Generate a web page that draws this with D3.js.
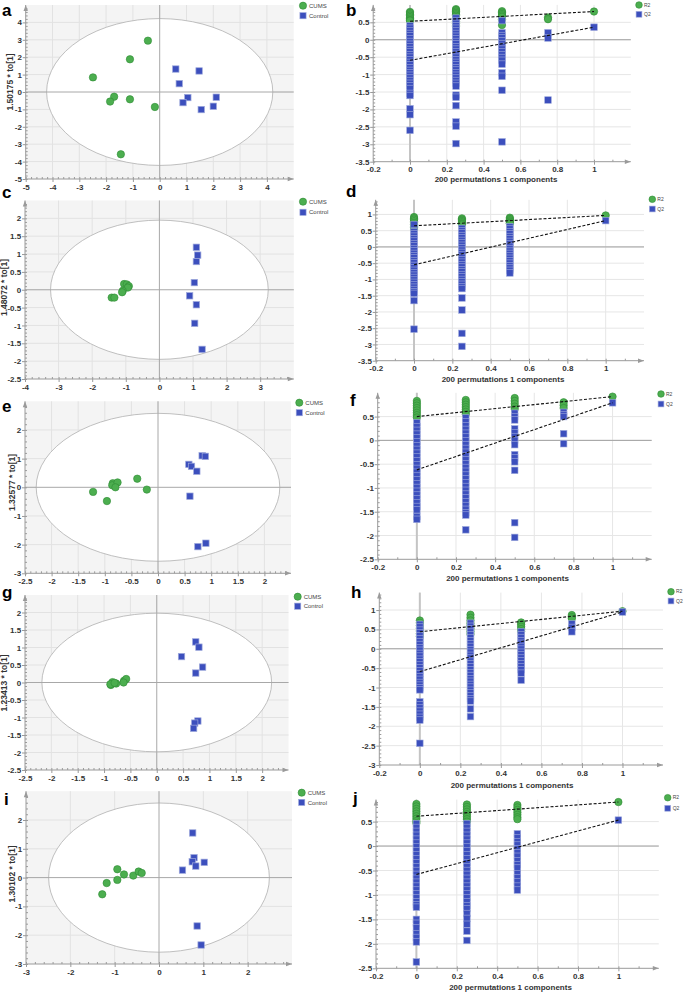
<!DOCTYPE html>
<html><head><meta charset="utf-8">
<script src="https://cdn.jsdelivr.net/npm/d3@7"></script>
<style>
body{margin:0;background:#fff;}
svg{display:block;}
</style></head><body>
<svg id="chart" width="685" height="993"></svg>
<script>
// ---------- Score plots (t[1], to[1]) ----------
const aCUMS = [[-0.44,2.95],[-1.11,1.88],[-2.49,0.84],[-1.70,-0.27],[-1.85,-0.55],[-1.11,-0.42],[-0.18,-0.86],[-1.45,-3.58]];
const aControl = [[0.60,1.32],[1.47,1.21],[0.73,0.48],[1.05,-0.32],[0.87,-0.61],[2.11,-0.30],[2.00,-0.82],[1.55,-1.01]];
const cCUMS = [[-1.05,0.16],[-0.97,0.15],[-0.91,0.10],[-0.94,0.06],[-1.09,-0.03],[-1.11,-0.07],[-1.42,-0.22],[-1.34,-0.22]];
const cControl = [[1.10,1.19],[1.14,0.97],[1.10,0.79],[1.04,0.20],[0.90,-0.17],[1.10,-0.42],[1.05,-0.94],[1.27,-1.67]];
const eCUMS = [[-1.22,-0.16],[-0.96,-0.48],[-0.85,0.14],[-0.86,0.07],[-0.76,0.17],[-0.80,0.00],[-0.39,0.30],[-0.21,-0.08]];
const eControl = [[0.83,1.10],[0.89,1.08],[0.58,0.80],[0.63,0.73],[0.73,0.56],[0.60,-0.31],[0.75,-2.07],[0.90,-1.95]];
const gCUMS = [[-0.87,-0.07],[-0.84,0.01],[-0.88,-0.05],[-0.77,-0.03],[-0.80,-0.01],[-0.62,0.05],[-0.58,0.10],[-0.63,0.00]];
const gControl = [[0.74,1.16],[0.80,1.01],[0.47,0.74],[0.87,0.44],[0.74,0.27],[0.78,-1.10],[0.72,-1.16],[0.70,-1.31]];
const iCUMS = [[-1.28,-0.58],[-1.18,-0.19],[-0.94,-0.08],[-0.94,0.29],[-0.79,0.11],[-0.58,0.07],[-0.46,0.21],[-0.39,0.16]];
const iControl = [[0.76,1.55],[0.79,0.69],[0.75,0.55],[0.83,0.40],[1.02,0.53],[0.53,0.26],[0.86,-1.68],[0.95,-2.34]];
// Hotelling ellipse radii (t, to)
const aEllipse = [4.22, 4.22];
const cEllipse = [3.24, 1.95];
const eEllipse = [2.29, 2.58];
const gEllipse = [2.18, 1.98];
const iEllipse = [2.49, 2.59];
const scoreLabels = ["1.50175 * to[1]","1.48072 * to[1]","1.32577 * to[1]","1.23413 * to[1]","1.30102 * to[1]"];

// ---------- Permutation tests ----------
const permX = [0, 0.25, 0.5, 0.75, 1];
const bR2 = [[0.80,0.77,0.73,0.69,0.65,0.61,0.57,0.55],
             [0.88,0.85,0.81,0.77,0.73,0.69,0.65,0.61,0.57,0.52,0.47,0.42,0.37],
             [0.82,0.78,0.74,0.70,0.66,0.58,0.42],
             [0.64,0.59],
             [0.81]];
const bQ2 = [[0.40,0.33,0.25,0.18,0.11,0.03,-0.05,-0.13,-0.20,-0.28,-0.35,-0.43,-0.50,-0.57,-0.65,-0.72,-0.80,-0.88,-0.95,-1.02,-1.10,-1.17,-1.25,-1.32,-1.40,-1.54,-1.60,-1.98,-2.15,-2.60],
             [0.62,0.55,0.47,0.40,0.33,0.25,0.18,0.10,0.03,-0.05,-0.12,-0.20,-0.27,-0.35,-0.42,-0.50,-0.57,-0.65,-0.72,-0.80,-0.87,-0.95,-1.02,-1.10,-1.17,-1.25,-1.33,-1.59,-1.65,-1.89,-2.36,-2.48,-2.98],
             [0.55,0.20,0.12,0.05,-0.03,-0.11,-0.19,-0.27,-0.35,-0.43,-0.51,-0.59,-0.70,-0.95,-1.05,-1.45,-2.93],
             [0.20,0.05,-1.73],
             [0.36]];
const bLineR2 = [[0,0.53],[1,0.81]];
const bLineQ2 = [[0,-0.59],[1,0.36]];

const dR2 = [[0.92,0.88,0.84,0.79,0.74,0.69,0.64,0.59,0.55],
             [0.88,0.84,0.80,0.76,0.72,0.69],
             [0.90,0.86,0.82,0.78,0.74,0.72],
             [],
             [0.97]];
const dQ2 = [[0.69,0.47,0.40,0.33,0.25,0.18,0.10,0.03,-0.05,-0.12,-0.20,-0.27,-0.34,-0.42,-0.49,-0.57,-0.64,-0.72,-0.79,-0.87,-0.94,-1.02,-1.09,-1.17,-1.24,-1.31,-1.38,-1.43,-1.65,-2.53],
             [0.57,0.50,0.43,0.35,0.28,0.20,0.13,0.05,-0.02,-0.10,-0.17,-0.25,-0.32,-0.40,-0.47,-0.55,-0.62,-0.70,-0.77,-0.85,-0.92,-1.00,-1.07,-1.15,-1.22,-1.28,-1.57,-1.94,-2.66,-3.06],
             [0.62,0.55,0.47,0.40,0.32,0.25,0.17,0.10,0.02,-0.05,-0.13,-0.20,-0.28,-0.35,-0.43,-0.50,-0.58,-0.65,-0.72,-0.80],
             [],
             [0.81]];
const dLineR2 = [[0,0.65],[1,0.97]];
const dLineQ2 = [[0,-0.55],[1,0.81]];

const fR2 = [[0.83,0.78,0.73,0.68,0.63,0.58,0.53,0.48],
             [0.85,0.80,0.75,0.70,0.65,0.60,0.55],
             [0.89,0.83,0.77,0.71,0.66],
             [0.80,0.74,0.68],
             [0.92]];
const fQ2 = [[0.37,0.29,0.21,0.13,0.05,-0.03,-0.11,-0.19,-0.27,-0.35,-0.43,-0.51,-0.59,-0.67,-0.75,-0.83,-0.91,-0.99,-1.07,-1.15,-1.23,-1.31,-1.39,-1.46,-1.60,-1.66],
             [0.47,0.39,0.31,0.23,0.15,0.07,-0.01,-0.09,-0.17,-0.25,-0.33,-0.41,-0.49,-0.57,-0.65,-0.73,-0.81,-0.89,-0.97,-1.05,-1.13,-1.21,-1.29,-1.37,-1.45,-1.52,-1.57,-1.88],
             [0.57,0.50,0.43,0.24,0.16,0.08,0.00,-0.09,-0.30,-0.37,-0.45,-0.63,-1.73,-2.04],
             [0.59,0.54,0.50,0.14,-0.07],
             [0.79]];
const fLineR2 = [[0,0.50],[1,0.92]];
const fLineQ2 = [[0,-0.62],[1,0.79]];

const hR2 = [[0.73,0.67,0.60,0.53,0.46,0.39,0.32],
             [0.88,0.80,0.73,0.66,0.59,0.52,0.45,0.38],
             [0.68,0.63,0.57,0.51,0.45],
             [0.87,0.82,0.78],
             [0.97]];
const hQ2 = [[0.63,0.56,0.48,0.41,0.33,0.26,0.18,0.11,0.03,-0.04,-0.12,-0.19,-0.27,-0.34,-0.42,-0.49,-0.57,-0.64,-0.72,-0.79,-0.87,-0.94,-1.01,-1.06,-1.37,-1.45,-1.53,-1.61,-1.69,-1.77,-1.84,-2.44],
             [0.66,0.58,0.51,0.43,0.36,0.28,0.21,0.13,0.06,-0.02,-0.09,-0.17,-0.24,-0.32,-0.39,-0.47,-0.54,-0.62,-0.69,-0.77,-0.84,-0.92,-0.99,-1.07,-1.14,-1.22,-1.29,-1.35,-1.55,-1.75],
             [0.44,0.36,0.29,0.21,0.14,0.06,-0.01,-0.09,-0.16,-0.24,-0.31,-0.39,-0.46,-0.54,-0.63,-0.81],
             [0.64,0.55,0.44],
             [0.95]];
const hLineR2 = [[0,0.44],[1,0.97]];
const hLineQ2 = [[0,-0.59],[1,0.95]];

const jR2 = [[0.86,0.81,0.76,0.71,0.66,0.61,0.56,0.51,0.47],
             [0.85,0.80,0.75,0.70,0.65,0.60,0.55,0.50],
             [0.84,0.79,0.74,0.69,0.64,0.59,0.55],
             [],
             [0.90]];
const jQ2 = [[0.46,0.38,0.30,0.22,0.14,0.06,-0.02,-0.10,-0.18,-0.26,-0.34,-0.42,-0.50,-0.58,-0.66,-0.74,-0.82,-0.90,-0.98,-1.06,-1.14,-1.20,-1.25,-1.50,-1.58,-1.67,-1.79,-1.87,-1.96,-2.37],
             [0.46,0.38,0.30,0.22,0.14,0.06,-0.02,-0.10,-0.18,-0.26,-0.34,-0.42,-0.50,-0.58,-0.66,-0.74,-0.82,-0.90,-0.98,-1.06,-1.14,-1.22,-1.28,-1.38,-1.48,-1.60,-1.74,-1.93],
             [0.25,0.17,0.09,0.02,-0.06,-0.14,-0.21,-0.30,-0.38,-0.45,-0.57,-0.65,-0.73,-0.82,-0.90],
             [],
             [0.53]];
const jLineR2 = [[0,0.61],[1,0.90]];
const jLineQ2 = [[0,-0.58],[1,0.53]];

// ---------- tick labels ----------
const aXTicks = [-5,-4,-3,-2,-1,0,1,2,3,4], aYTicks = [-5,-4,-3,-2,-1,0,1,2,3,4];
const cXTicks = [-4,-3,-2,-1,0,1,2,3], cYTicks = [-2.5,-2,-1.5,-1,-0.5,0,0.5,1,1.5,2];
const eXTicks = [-2.5,-2,-1.5,-1,-0.5,0,0.5,1,1.5,2], eYTicks = [-3,-2,-1,0,1,2];
const gXTicks = [-2.5,-2,-1.5,-1,-0.5,0,0.5,1,1.5,2], gYTicks = [-2.5,-2,-1.5,-1,-0.5,0,0.5,1,1.5,2];
const iXTicks = [-3,-2,-1,0,1,2], iYTicks = [-3,-2,-1,0,1,2];
const permXTicks = [-0.2,0,0.2,0.4,0.6,0.8,1];
const bYTicks = [-3.5,-3,-2.5,-2,-1.5,-1,-0.5,0,0.5];
const dYTicks = [-3.5,-3,-2.5,-2,-1.5,-1,-0.5,0,0.5,1];
const fYTicks = [-2.5,-2,-1.5,-1,-0.5,0,0.5];
const hYTicks = [-3,-2.5,-2,-1.5,-1,-0.5,0,0.5,1];
const jYTicks = [-2.5,-2,-1.5,-1,-0.5,0,0.5];
const permXTitle = "200 permutations 1 components";

// ---------- drawing ----------
const FONT = '"Liberation Sans", Arial, Helvetica, sans-serif';
const GREEN = '#4cae4f', GREEN_S = '#2e8b34', BLUE = '#3c4fbd', BLUE_S = '#9ea9dc';
const svg = d3.select('#chart');

function drawAxes(g, x, y, xTicks, yTicks, xMinorStep, yMinorStep) {
  const [xl, xr] = x.range(); const [yb, yt] = y.range();
  const xd = x.domain(), yd = y.domain();
  const ya = g.append('g').attr('transform', `translate(${xl},0)`)
    .call(d3.axisLeft(y).tickValues(yTicks).tickSize(3).tickPadding(0.8).tickFormat(d => String(d)));
  ya.select('.domain').remove();
  const ym = g.append('g').attr('transform', `translate(${xl},0)`)
    .call(d3.axisRight(y).tickValues(d3.range(yd[0], yd[1] - 1e-9, yMinorStep)).tickSize(2).tickFormat(''));
  ym.select('.domain').remove();
  const xa = g.append('g').attr('transform', `translate(0,${yb})`)
    .call(d3.axisBottom(x).tickValues(xTicks).tickSize(3).tickPadding(2).tickFormat(d => String(d)));
  xa.select('.domain').remove();
  const xm = g.append('g').attr('transform', `translate(0,${yb})`)
    .call(d3.axisTop(x).tickValues(d3.range(xd[0], xd[1] - 1e-9, xMinorStep)).tickSize(2).tickFormat(''));
  xm.select('.domain').remove();
  g.selectAll('.tick line').attr('stroke', '#9a9a9a');
  g.selectAll('.tick text').attr('fill', '#333').style('font', `bold 8px ${FONT}`);
  g.append('line').attr('x1', xl).attr('x2', xl).attr('y1', yb).attr('y2', yt).attr('stroke', '#9a9a9a');
  g.append('path').attr('d', `M${xl-2.2},${yt+6}L${xl},${yt}L${xl+2.2},${yt+6}Z`).attr('fill', '#9a9a9a');
  g.append('line').attr('x1', xl).attr('x2', xr).attr('y1', yb).attr('y2', yb).attr('stroke', '#9a9a9a');
  g.append('path').attr('d', `M${xr-6},${yb-2.2}L${xr},${yb}L${xr-6},${yb+2.2}Z`).attr('fill', '#9a9a9a');
}

function letter(t, px, py) {
  svg.append('text').attr('x', px).attr('y', py).text(t)
    .style('font', `bold 17px ${FONT}`).attr('fill', '#000');
}

function legend(px, py, dy, names, r, s, fs, tx) {
  svg.append('circle').attr('cx', px).attr('cy', py).attr('r', r).attr('fill', GREEN).attr('stroke', GREEN_S).attr('stroke-width', 0.6);
  svg.append('rect').attr('x', px - s/2).attr('y', py + dy - s/2).attr('width', s).attr('height', s).attr('fill', BLUE).attr('stroke', BLUE_S).attr('stroke-width', 0.6);
  names.forEach((n, k) => svg.append('text').attr('x', px + tx).attr('y', py + k*dy).attr('dy', '0.35em').text(n)
    .style('font', `${fs}px ${FONT}`).attr('fill', '#444'));
}

function scorePanel(c) {
  const x = d3.scaleLinear().domain(c.xDom).range(c.xR);
  const y = d3.scaleLinear().domain(c.yDom).range(c.yR);
  const g = svg.append('g');
  const [xl, xr] = c.xR, [yb, yt] = c.yR;
  g.append('rect').attr('x', xl).attr('y', yt).attr('width', xr - xl).attr('height', yb - yt).attr('fill', '#f4f4f4');
  g.selectAll(null).data(c.xTicks.filter(v => v > c.xDom[0])).join('line')
    .attr('x1', d => x(d)).attr('x2', d => x(d)).attr('y1', yt).attr('y2', yb).attr('stroke', '#e2e2e2');
  g.selectAll(null).data(c.yTicks.filter(v => v > c.yDom[0])).join('line')
    .attr('y1', d => y(d)).attr('y2', d => y(d)).attr('x1', xl).attr('x2', xr).attr('stroke', '#e2e2e2');
  g.append('ellipse').attr('cx', x(0)).attr('cy', y(0))
    .attr('rx', x(c.ell[0]) - x(0)).attr('ry', y(0) - y(c.ell[1]))
    .attr('fill', '#fff').attr('stroke', '#b0b0b0').attr('stroke-width', 0.8);
  g.append('line').attr('x1', x(0)).attr('x2', x(0)).attr('y1', yt).attr('y2', yb).attr('stroke', '#a8a8a8');
  g.append('line').attr('x1', xl).attr('x2', xr).attr('y1', y(0)).attr('y2', y(0)).attr('stroke', '#a8a8a8');
  drawAxes(g, x, y, c.xTicks, c.yTicks, c.xMinor, c.yMinor);
  g.selectAll(null).data(c.cums).join('circle')
    .attr('cx', d => x(d[0])).attr('cy', d => y(d[1])).attr('r', 3.7)
    .attr('fill', GREEN).attr('stroke', GREEN_S).attr('stroke-width', 0.6);
  g.selectAll(null).data(c.ctrl).join('rect')
    .attr('x', d => x(d[0]) - 3.2).attr('y', d => y(d[1]) - 3.2).attr('width', 6.4).attr('height', 6.4)
    .attr('fill', BLUE).attr('stroke', BLUE_S).attr('stroke-width', 0.7);
  svg.append('text').attr('transform', `translate(${c.lab[0]},${c.lab[1]}) rotate(-90)`)
    .attr('text-anchor', 'middle').attr('dy', '0.35em').text(c.label)
    .style('font', `bold 8.5px ${FONT}`).attr('fill', '#333');
  letter(c.letter, c.letterPos[0], c.letterPos[1]);
  legend(c.leg[0], c.leg[1], c.leg[2], ['CUMS', 'Control'], 3.6, 6.2, 6, c.leg[3]);
}

function permPanel(c) {
  const x = d3.scaleLinear().domain([-0.2, 1.2]).range(c.xR);
  const y = d3.scaleLinear().domain(c.yDom).range(c.yR);
  const g = svg.append('g');
  const [xl, xr] = c.xR, [yb, yt] = c.yR;
  g.selectAll(null).data(permXTicks.filter(v => v > -0.2)).join('line')
    .attr('x1', d => x(d)).attr('x2', d => x(d)).attr('y1', yt).attr('y2', yb).attr('stroke', '#e6e6e6');
  g.selectAll(null).data(c.yTicks.filter(v => v > c.yDom[0])).join('line')
    .attr('y1', d => y(d)).attr('y2', d => y(d)).attr('x1', xl).attr('x2', xr).attr('stroke', '#e6e6e6');
  g.append('line').attr('x1', x(0)).attr('x2', x(0)).attr('y1', yt).attr('y2', yb).attr('stroke', '#c4c4c4').attr('stroke-width', 2);
  g.append('line').attr('x1', xl).attr('x2', xr).attr('y1', y(0)).attr('y2', y(0)).attr('stroke', '#a0a0a0');
  drawAxes(g, x, y, permXTicks, c.yTicks, 0.1, 0.1);
  const r2pts = [], q2pts = [];
  permX.forEach((px, k) => {
    c.r2[k].forEach(v => r2pts.push([px, v]));
    c.q2[k].forEach(v => q2pts.push([px, v]));
  });
  g.selectAll(null).data(r2pts).join('circle')
    .attr('cx', d => x(d[0])).attr('cy', d => y(d[1])).attr('r', 3.7)
    .attr('fill', GREEN).attr('stroke', GREEN_S).attr('stroke-width', 0.6);
  g.selectAll(null).data(q2pts).join('rect')
    .attr('x', d => x(d[0]) - 3.3).attr('y', d => y(d[1]) - 3.3).attr('width', 6.6).attr('height', 6.6)
    .attr('fill', BLUE).attr('stroke', BLUE_S).attr('stroke-width', 0.6);
  const line = d3.line().x(d => x(d[0])).y(d => y(d[1]));
  [c.lr2, c.lq2].forEach(L => g.append('path').attr('d', line(L)).attr('fill', 'none')
    .attr('stroke', '#111').attr('stroke-width', 1.1).attr('stroke-dasharray', '3,1.8'));
  svg.append('text').attr('x', c.title[0]).attr('y', c.title[1]).attr('text-anchor', 'middle')
    .text(permXTitle).style('font', `bold 8px ${FONT}`).attr('fill', '#333');
  letter(c.letter, c.letterPos[0], c.letterPos[1]);
  legend(c.leg[0], c.leg[1], c.leg[2], ['R2', 'Q2'], 3.3, 5.8, 5, 5);
}

scorePanel({cums: aCUMS, ctrl: aControl, xDom: [-5,5], yDom: [-5,5], xR: [25.7,293.7], yR: [179,5],
  xTicks: aXTicks, yTicks: aYTicks, xMinor: 0.2, yMinor: 0.2, ell: aEllipse, label: scoreLabels[0],
  lab: [10.5,82], letter: 'a', letterPos: [2,15.5], leg: [303,5.7,10,6]});
scorePanel({cums: cCUMS, ctrl: cControl, xDom: [-4,4], yDom: [-2.5,2.5], xR: [25,293.8], yR: [379,200.5],
  xTicks: cXTicks, yTicks: cYTicks, xMinor: 0.2, yMinor: 0.1, ell: cEllipse, label: scoreLabels[1],
  lab: [4,287.5], letter: 'c', letterPos: [2,198], leg: [303,201.7,10.6,6]});
scorePanel({cums: eCUMS, ctrl: eControl, xDom: [-2.5,2.5], yDom: [-3,3], xR: [25,291], yR: [573.3,401.3],
  xTicks: eXTicks, yTicks: eYTicks, xMinor: 0.1, yMinor: 0.2, ell: eEllipse, label: scoreLabels[2],
  lab: [12.5,482.5], letter: 'e', letterPos: [2,412], leg: [299.3,402.7,10,6]});
scorePanel({cums: gCUMS, ctrl: gControl, xDom: [-2.5,2.5], yDom: [-2.5,2.5], xR: [25,288.5], yR: [770,595],
  xTicks: gXTicks, yTicks: gYTicks, xMinor: 0.1, yMinor: 0.1, ell: gEllipse, label: scoreLabels[3],
  lab: [4,683], letter: 'g', letterPos: [2,598], leg: [297.7,596.7,9.5,6]});
scorePanel({cums: iCUMS, ctrl: iControl, xDom: [-3,3], yDom: [-3,3], xR: [26,292], yR: [964,791.2],
  xTicks: iXTicks, yTicks: iYTicks, xMinor: 0.2, yMinor: 0.2, ell: iEllipse, label: scoreLabels[4],
  lab: [12.5,874], letter: 'i', letterPos: [4,805], leg: [301.7,792.7,9.7,6]});

permPanel({r2: bR2, q2: bQ2, lr2: bLineR2, lq2: bLineQ2, yDom: [-3.5,1], xR: [373.2,630.8], yR: [161.7,4.9],
  yTicks: bYTicks, title: [496,182], letter: 'b', letterPos: [346,15.5], leg: [639,5,9.3]});
permPanel({r2: dR2, q2: dQ2, lr2: dLineR2, lq2: dLineQ2, yDom: [-3.5,1.45], xR: [375.7,644], yR: [360.7,199.8],
  yTicks: dYTicks, title: [503,382], letter: 'd', letterPos: [346,197], leg: [652.3,199.3,9.7]});
permPanel({r2: fR2, q2: fQ2, lr2: fLineR2, lq2: fLineQ2, yDom: [-2.5,1], xR: [377.7,651.7], yR: [559.3,392.8],
  yTicks: fYTicks, title: [507.5,581], letter: 'f', letterPos: [350,406], leg: [661,394,10]});
permPanel({r2: hR2, q2: hQ2, lr2: hLineR2, lq2: hLineQ2, yDom: [-3,1.45], xR: [379.3,663], yR: [765,592.6],
  yTicks: hYTicks, title: [512,788], letter: 'h', letterPos: [351,598], leg: [671,591.7,9.3]});
permPanel({r2: jR2, q2: jQ2, lr2: jLineR2, lq2: jLineQ2, yDom: [-2.5,0.95], xR: [376,658.8], yR: [968.3,799.6],
  yTicks: jYTicks, title: [510.5,990], letter: 'j', letterPos: [353,804], leg: [667.7,797.7,10.6]});
</script></body></html>
